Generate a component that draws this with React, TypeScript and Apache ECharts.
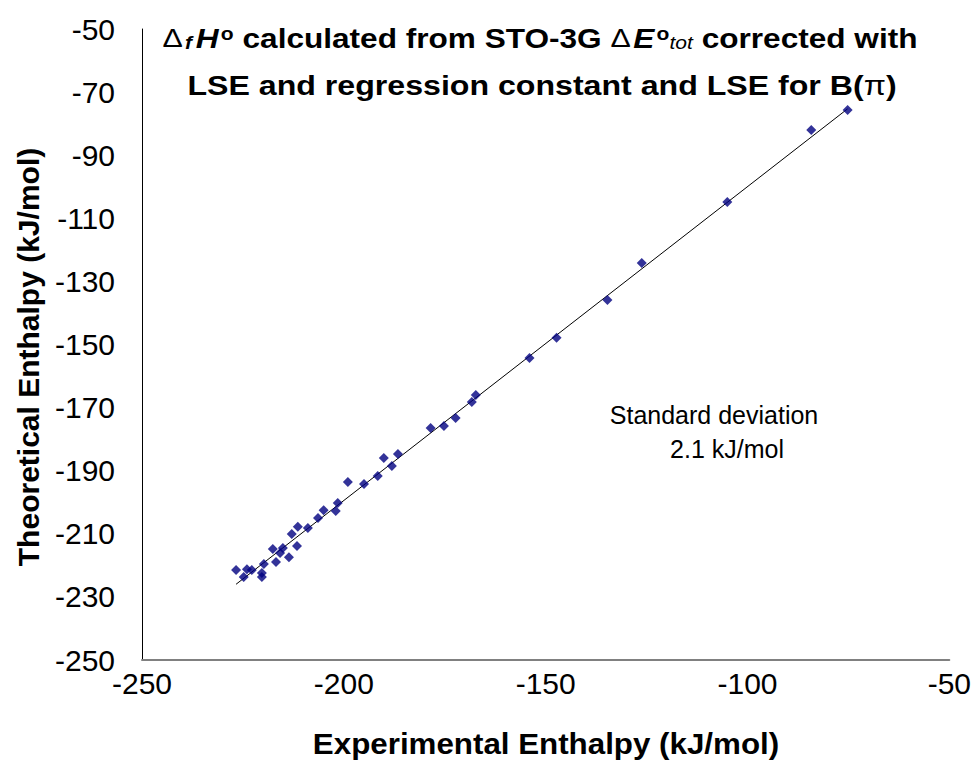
import React, { useEffect, useRef } from "react";
import * as echarts from "echarts";

const FONT = "'Liberation Sans', Arial, sans-serif";

// Experimental enthalpy (kJ/mol) vs theoretical enthalpy (kJ/mol)
const expX = [
  -75.2, -84.2, -105.0, -126.2, -134.7, -147.3, -154.0, -167.3, -168.3, -172.3,
  -175.2, -178.5, -186.6, -190.1, -188.1, -191.6, -199.0, -195.0, -201.5, -202.0,
  -205.0, -206.4, -208.9, -211.4, -212.9, -211.6, -213.6, -215.1, -215.8, -217.6,
  -216.8, -219.8, -220.3, -220.3, -222.8, -224.0, -224.8, -226.7,
];
const theoY = [
  -75.7, -82.0, -104.8, -124.2, -135.9, -147.9, -154.3, -166.0, -168.2, -173.3,
  -175.8, -176.5, -184.7, -186.0, -188.5, -191.7, -193.6, -194.2, -200.2, -202.8,
  -202.5, -205.0, -208.2, -207.8, -210.1, -213.9, -217.4, -214.5, -216.1, -214.8,
  -218.9, -219.6, -222.4, -223.7, -221.5, -221.2, -223.7, -221.5,
];
const trendX = [-226.7, -75.2];
const trendY = [-226.0, -75.3];

const xMin = -250, xMax = -50, xStep = 50;
const yMin = -250, yMax = -50, yStep = 20;

const titleLine1 = "{d|Δ}{f|f}{h|H}{o|o} calculated from STO-3G {d|Δ}{h|E}{o|o}{t|tot} corrected with";
const titleLine2 = "LSE and regression constant and LSE for B({p|π})";
const xName = "Experimental Enthalpy (kJ/mol)";
const yName = "Theoretical Enthalpy (kJ/mol)";
const noteLine1 = "Standard deviation";
const noteLine2 = "2.1 kJ/mol";

export default function App() {
  const ref = useRef<HTMLDivElement>(null);
  useEffect(() => {
    const chart = echarts.init(ref.current!, null, { renderer: "svg" });
    const rich = {
      d: { fontFamily: FONT, fontSize: 26, fontWeight: "normal", fill: "#000", padding: [0, 2, 0, 0] },
      f: { fontFamily: FONT, fontSize: 18, fontWeight: "bold", fontStyle: "italic", fill: "#000", verticalAlign: "bottom", padding: [0, 3, 0, 0] },
      h: { fontFamily: FONT, fontSize: 27, fontWeight: "bold", fontStyle: "italic", fill: "#000" },
      o: { fontFamily: FONT, fontSize: 18, fontWeight: "bold", fill: "#000", verticalAlign: "top", padding: [0, 0, 0, 2] },
      t: { fontFamily: FONT, fontSize: 18, fontWeight: "normal", fontStyle: "italic", fill: "#000", verticalAlign: "bottom" },
      p: { fontFamily: FONT, fontSize: 27, fontWeight: "normal", fill: "#000" },
    };
    chart.setOption({
      animation: false,
      backgroundColor: "#ffffff",
      grid: { left: 142, top: 29, right: 24, bottom: 102 },
      xAxis: {
        type: "value",
        min: xMin,
        max: xMax,
        interval: xStep,
        axisLine: { onZero: false, lineStyle: { color: "#808080", width: 2 } },
        axisTick: { show: false },
        splitLine: { show: false },
        axisLabel: { color: "#000", fontSize: 30, fontFamily: FONT, margin: 8 },
      },
      yAxis: {
        type: "value",
        min: yMin,
        max: yMax,
        interval: yStep,
        axisLine: { show: true, onZero: false, lineStyle: { color: "#000", width: 1 } },
        axisTick: { show: false },
        splitLine: { show: false },
        axisLabel: { color: "#000", fontSize: 30, fontFamily: FONT, margin: 27 },
      },
      graphic: [
        {
          type: "text", x: 540, y: 38, scaleX: 1.17,
          style: { text: titleLine1, rich, fontFamily: FONT, fontSize: 27, fontWeight: "bold", fill: "#000", align: "center", verticalAlign: "middle" },
        },
        {
          type: "text", x: 542, y: 85, scaleX: 1.19,
          style: { text: titleLine2, rich, fontFamily: FONT, fontSize: 27, fontWeight: "bold", fill: "#000", align: "center", verticalAlign: "middle" },
        },
        {
          type: "text", x: 546, y: 744, scaleX: 1.08,
          style: { text: xName, fontFamily: FONT, fontSize: 29, fontWeight: "bold", fill: "#000", align: "center", verticalAlign: "middle" },
        },
        {
          type: "text", x: 28, y: 357, rotation: Math.PI / 2,
          style: { text: yName, fontFamily: FONT, fontSize: 30, fontWeight: "bold", fill: "#000", align: "center", verticalAlign: "middle" },
        },
        {
          type: "text", x: 714, y: 415,
          style: { text: noteLine1, fontFamily: FONT, fontSize: 25, fill: "#000", align: "center", verticalAlign: "middle" },
        },
        {
          type: "text", x: 727, y: 449,
          style: { text: noteLine2, fontFamily: FONT, fontSize: 25, fill: "#000", align: "center", verticalAlign: "middle" },
        },
      ],
      series: [
        {
          type: "line",
          data: trendX.map((x, i) => [x, trendY[i]]),
          showSymbol: false,
          symbol: "none",
          lineStyle: { color: "#000", width: 1 },
          silent: true,
          z: 1,
        },
        {
          type: "scatter",
          data: expX.map((x, i) => [x, theoY[i]]),
          symbol: "diamond",
          symbolSize: 10,
          itemStyle: { color: "#000080" },
          z: 2,
        },
      ],
    });
    return () => chart.dispose();
  }, []);
  return <div ref={ref} style={{ position: "fixed", left: 0, top: 0, width: 974, height: 762 }} />;
}
